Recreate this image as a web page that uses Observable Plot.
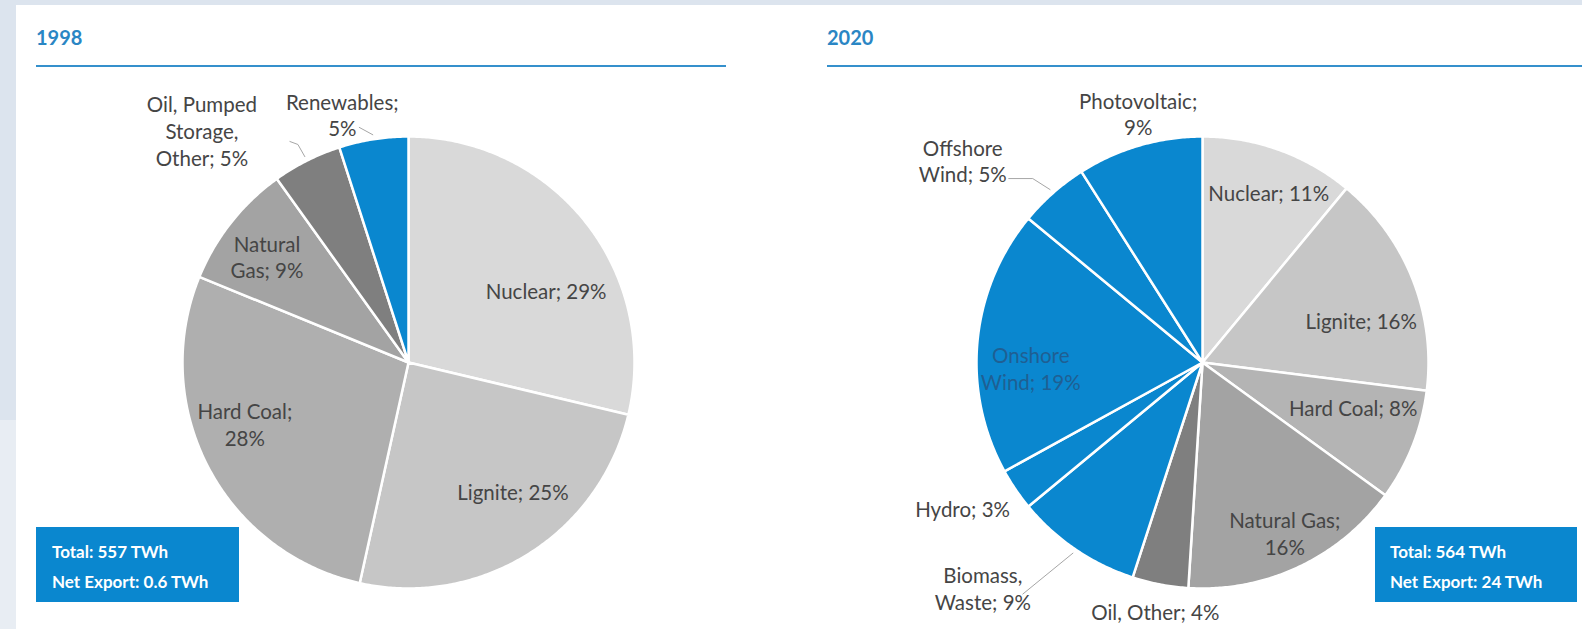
<!DOCTYPE html>
<html>
<head>
<meta charset="utf-8">
<script src="https://cdn.jsdelivr.net/npm/d3@7"></script>
<script src="https://cdn.jsdelivr.net/npm/@observablehq/plot@0.6"></script>
<style>
  html, body { margin: 0; padding: 0; }
  body { width: 1582px; height: 629px; overflow: hidden; background: #dce4ee; position: relative; font-family: Lato, sans-serif; }
  #lowstrip { position: absolute; left: 0; top: 420px; width: 16px; bottom: 0; background: #e8edf3; }
  #panel { position: absolute; left: 16px; top: 5px; right: 0; bottom: 0; background: #ffffff; }
  .title { position: absolute; font-family: Lato, sans-serif; font-weight: 700; font-size: 20px; line-height: 20px; color: #2a86c4; }
  .rule { position: absolute; height: 2px; background: #3590cc; }
  .box { position: absolute; background: #0a87cf; color: #fff; font-family: Lato, sans-serif; font-weight: 700; font-size: 17px; line-height: 30px; box-sizing: border-box; padding-top: 10px; white-space: nowrap; }
  .plot { position: absolute; }
</style>
</head>
<body>
<div id="lowstrip"></div>
<div id="panel"></div>
<div id="root"></div>
<script>
// ---------- data ----------
const years = ["1998", "2020"];

const sources1998 = ["Nuclear", "Lignite", "Hard Coal", "Natural Gas", "Oil, Pumped Storage, Other", "Renewables"];
const shares1998 = [29, 25, 28, 9, 5, 5];
const labelText1998 = ["Nuclear; 29%", "Lignite; 25%", "Hard Coal;\n28%", "Natural\nGas; 9%", "Oil, Pumped\nStorage,\nOther; 5%", "Renewables;\n5%"];

const sources2020 = ["Nuclear", "Lignite", "Hard Coal", "Natural Gas", "Oil, Other", "Biomass, Waste", "Hydro", "Onshore Wind", "Offshore Wind", "Photovoltaic"];
const shares2020 = [11, 16, 8, 16, 4, 9, 3, 19, 5, 9];
const labelText2020 = ["Nuclear; 11%", "Lignite; 16%", "Hard Coal; 8%", "Natural Gas;\n16%", "Oil, Other; 4%", "Biomass,\nWaste; 9%", "Hydro; 3%", "Onshore\nWind; 19%", "Offshore\nWind; 5%", "Photovoltaic;\n9%"];

const totalsTWh = [557, 564];
const netExportTWh = [0.6, 24];

// ---------- style / layout ----------
const BLUE = "#0a87cf";
const GRAY_TEXT = "#454545";
const fills1998 = ["#d9d9d9", "#c6c6c6", "#afafaf", "#a3a3a3", "#7f7f7f", BLUE];
const fills2020 = ["#d9d9d9", "#c6c6c6", "#b4b4b4", "#a3a3a3", "#7f7f7f", BLUE, BLUE, BLUE, BLUE, BLUE];
const textColors1998 = sources1998.map(() => GRAY_TEXT);
const textColors2020 = sources2020.map((s, i) => i === 7 ? "#1f5f93" : GRAY_TEXT);

// label placement: [radius fraction along mid-angle, nudge x px, nudge y px]
const place1998 = [[0.7, 13.5, 25.7], [0.7, 20.4, -5.4], [0.7, -23.5, -12], [0.7, -17.4, -7.9], [1.2, -84.6, 10.2], [1.1, -27.7, -2.5]];
const place2020 = [[0.75, 8.8, -10.2], [0.75, 1.1, 20.1], [0.75, -6.9, -17.1], [0.75, 10.1, 16.8], [1.1, -0.6, 4.9], [1.2, -67.2, 1.2], [1.1, -34.3, 5.9], [0.75, -3, 21.4], [1.2, -60.4, 1.5], [1.12, 6.3, -6]];
// leader line bend points relative to label centre (px)
const leaders1998 = {4: [[96, 14], [88, 11]], 5: [[17, 13]]};
const leaders2020 = {5: [[40, 6]], 8: [[70, 18], [46, 18]]};

const panels = [
  {left: 16, top: 70, width: 760, height: 559, cx: 392, cy: 292, R: 226,
   titleX: 36, ruleW: 690, boxX: 36, boxW: 203, padL: 16},
  {left: 780, top: 70, width: 802, height: 559, cx: 422, cy: 292, R: 226,
   titleX: 827, ruleW: 755, boxX: 1375, boxW: 202, padL: 15}
];

function pieChart(values, texts, colors, textColors, place, leaders, L) {
  const arcs = d3.pie().sort(null).value(d => d)(values);
  const mid = a => (a.startAngle + a.endAngle) / 2;
  const slices = [];
  arcs.forEach((a, i) => {
    const n = Math.max(2, Math.ceil((a.endAngle - a.startAngle) / (Math.PI / 360)));
    slices.push({i, x: 0, y: 0});
    for (let s = 0; s <= n; s++) {
      const t = a.startAngle + (a.endAngle - a.startAngle) * s / n;
      slices.push({i, x: Math.sin(t), y: Math.cos(t)});
    }
    slices.push({i, x: 0, y: 0});
  });
  const labels = arcs.map((a, i) => {
    const [k, dx, dy] = place[i];
    const m = mid(a);
    return {i, text: texts[i], x: k * Math.sin(m) + dx / L.R, y: k * Math.cos(m) - dy / L.R};
  });
  const leaderPts = [];
  Object.entries(leaders).forEach(([key, pts]) => {
    const i = +key;
    const m = mid(arcs[i]);
    leaderPts.push({i, x: 1.02 * Math.sin(m), y: 1.02 * Math.cos(m)});
    pts.forEach(([dx, dy]) => leaderPts.push({i, x: labels[i].x + dx / L.R, y: labels[i].y - dy / L.R}));
  });
  return Plot.plot({
    width: L.width,
    height: L.height,
    margin: 0,
    x: {domain: [-L.cx / L.R, (L.width - L.cx) / L.R], axis: null},
    y: {domain: [-(L.height - L.cy) / L.R, L.cy / L.R], axis: null},
    color: {type: "identity"},
    style: {background: "transparent", overflow: "visible", fontFamily: "Lato, sans-serif"},
    marks: [
      Plot.line(slices, {x: "x", y: "y", z: "i", fill: d => colors[d.i], stroke: "#ffffff", strokeWidth: 2.5, strokeLinejoin: "round", curve: "linear"}),
      Plot.line(leaderPts, {x: "x", y: "y", z: "i", stroke: "#a6a6a6", strokeWidth: 1, curve: "linear"}),
      Plot.text(labels, {x: "x", y: "y", text: "text", fill: d => textColors[d.i], fontSize: 20.5, lineHeight: 1.3, fontFamily: "Lato, sans-serif"})
    ]
  });
}

const root = document.getElementById("root");
const specs = [
  [shares1998, labelText1998, fills1998, textColors1998, place1998, leaders1998],
  [shares2020, labelText2020, fills2020, textColors2020, place2020, leaders2020]
];

years.forEach((yr, k) => {
  const L = panels[k];
  const t = document.createElement("div");
  t.className = "title"; t.textContent = yr;
  t.style.left = L.titleX + "px"; t.style.top = "27px";
  root.appendChild(t);
  const r = document.createElement("div");
  r.className = "rule"; r.style.left = L.titleX + "px"; r.style.top = "65px"; r.style.width = L.ruleW + "px";
  root.appendChild(r);

  const [vals, texts, cols, tcols, place, leaders] = specs[k];
  const svg = pieChart(vals, texts, cols, tcols, place, leaders, L);
  const wrap = document.createElement("div");
  wrap.className = "plot"; wrap.style.left = L.left + "px"; wrap.style.top = L.top + "px";
  wrap.appendChild(svg);
  root.appendChild(wrap);

  const b = document.createElement("div");
  b.className = "box";
  b.style.left = L.boxX + "px"; b.style.top = "527px"; b.style.width = L.boxW + "px"; b.style.height = "75px";
  b.style.paddingLeft = L.padL + "px";
  b.innerHTML = `Total: ${totalsTWh[k]} TWh<br>Net Export: ${netExportTWh[k]} TWh`;
  root.appendChild(b);
});
</script>
</body>
</html>
